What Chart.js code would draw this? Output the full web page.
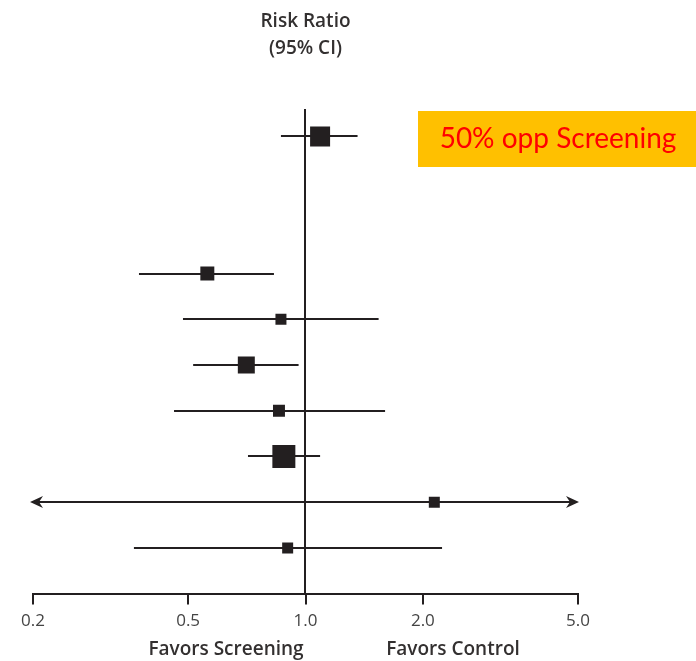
<!DOCTYPE html>
<html>
<head>
<meta charset="utf-8">
<script src="https://cdn.jsdelivr.net/npm/chart.js@4.4.1/dist/chart.umd.min.js"></script>
<style>
  html, body { margin: 0; padding: 0; background: #ffffff; }
  #wrap { width: 696px; height: 661px; position: relative; }
</style>
</head>
<body>
<div id="wrap"><canvas id="forest" width="696" height="661"></canvas></div>
<script>
// Forest plot: risk ratio per study with 95% confidence interval (log scale)
const studyRows   = [0, 3, 4, 5, 6, 7, 8, 9];              // vertical slot of each study
const riskRatio   = [1.09, 0.56, 0.865, 0.705, 0.855, 0.88, 2.14, 0.90];
const ciLower     = [0.865, 0.374, 0.485, 0.515, 0.46, 0.712, 0.15, 0.363];
const ciUpper     = [1.36, 0.83, 1.54, 0.96, 1.60, 1.09, 6.5, 2.24];
const studyWeight = [21.5, 10.5, 6.5, 15.5, 7.7, 28.4, 6.5, 6.5]; // % weight, sets box area
const tickValues  = [0.2, 0.5, 1.0, 2.0, 5.0];
const tickLabels  = ['0.2', '0.5', '1.0', '2.0', '5.0'];
const titleLines  = ['Risk Ratio', '(95% CI)'];
const favorLabels = ['Favors Screening', 'Favors Control'];
const calloutText = '50% opp Screening';

const INK = '#231f20';
const TEXT = '#333030';
const FONT = '"Open Sans", "DejaVu Sans", sans-serif';

const points = riskRatio.map((v, i) => ({ x: v, y: studyRows[i], lo: ciLower[i], hi: ciUpper[i], w: studyWeight[i] }));

// Side of the square marker grows with the square root of the weight
function boxSide(w) { return Math.sqrt(w * 18.6); }

function arrowHead(ctx, tipX, y, dir) {
  const len = 13, half = 6, notch = 4;
  ctx.beginPath();
  ctx.moveTo(tipX, y);
  ctx.lineTo(tipX + dir * len, y - half);
  ctx.lineTo(tipX + dir * (len - notch), y);
  ctx.lineTo(tipX + dir * len, y + half);
  ctx.closePath();
  ctx.fill();
}

const forestPlugin = {
  id: 'forestPlugin',
  beforeDatasetsDraw(chart) {
    const { ctx, chartArea, scales: { x, y } } = chart;
    ctx.save();
    ctx.strokeStyle = INK;
    ctx.fillStyle = INK;
    ctx.lineWidth = 2;
    // line of no effect
    const x1 = Math.round(x.getPixelForValue(1.0)) - 1;
    ctx.beginPath();
    ctx.moveTo(x1, chartArea.top);
    ctx.lineTo(x1, chartArea.bottom);
    ctx.stroke();
    // confidence intervals, arrows where they run past the axis
    points.forEach(p => {
      const py = Math.round(y.getPixelForValue(p.y));
      const loOut = p.lo < x.min, hiOut = p.hi > x.max;
      const xl = loOut ? x.getPixelForValue(x.min) - 3 : x.getPixelForValue(p.lo);
      const xr = hiOut ? x.getPixelForValue(x.max) + 1 : x.getPixelForValue(p.hi);
      ctx.beginPath();
      ctx.moveTo(xl + (loOut ? 8 : 0), py);
      ctx.lineTo(xr - (hiOut ? 8 : 0), py);
      ctx.stroke();
      if (loOut) arrowHead(ctx, xl, py, 1);
      if (hiOut) arrowHead(ctx, xr, py, -1);
    });
    ctx.restore();
  },
  afterDraw(chart) {
    const { ctx } = chart;
    ctx.save();
    // direction captions under the axis
    ctx.fillStyle = TEXT;
    ctx.font = '600 19px ' + FONT;
    ctx.textAlign = 'center';
    ctx.textBaseline = 'middle';
    ctx.fillText(favorLabels[0], 226, 650);
    ctx.fillText(favorLabels[1], 453, 650);
    // callout box
    ctx.fillStyle = '#ffc000';
    ctx.fillRect(418, 111, 278, 56);
    ctx.fillStyle = '#ff0000';
    ctx.font = '28px Lato, "Open Sans", sans-serif';
    ctx.fillText(calloutText, 558, 139);
    ctx.restore();
  }
};

new Chart(document.getElementById('forest'), {
  type: 'scatter',
  data: {
    datasets: [{
      data: points,
      pointStyle: 'rect',
      backgroundColor: INK,
      borderWidth: 0,
      pointRadius: ctx => boxSide(ctx.raw.w) / Math.SQRT2,
      pointHoverRadius: ctx => boxSide(ctx.raw.w) / Math.SQRT2
    }]
  },
  plugins: [forestPlugin],
  options: {
    responsive: false,
    animation: false,
    events: [],
    layout: { padding: { left: 33, right: 118, top: 0, bottom: 24 } },
    plugins: {
      legend: { display: false },
      tooltip: { enabled: false },
      title: {
        display: true,
        fullSize: false,
        text: titleLines,
        color: TEXT,
        font: { family: FONT, size: 19, weight: '600', lineHeight: 1.42 },
        padding: { top: 8, bottom: 47 }
      }
    },
    scales: {
      x: {
        type: 'logarithmic',
        min: 0.2,
        max: 5.0,
        afterBuildTicks: axis => { axis.ticks = tickValues.map(v => ({ value: v })); },
        ticks: {
          autoSkip: false,
          maxRotation: 0,
          padding: 6,
          color: '#444',
          font: { family: FONT, size: 17 },
          callback: (val) => tickLabels[tickValues.indexOf(val)]
        },
        grid: { drawOnChartArea: false, drawTicks: true, tickLength: 11, color: INK, lineWidth: 2 },
        border: { display: true, color: INK, width: 2 }
      },
      y: {
        type: 'linear',
        display: false,
        reverse: true,
        min: -0.6,
        max: 10
      }
    }
  }
});
</script>
</body>
</html>
